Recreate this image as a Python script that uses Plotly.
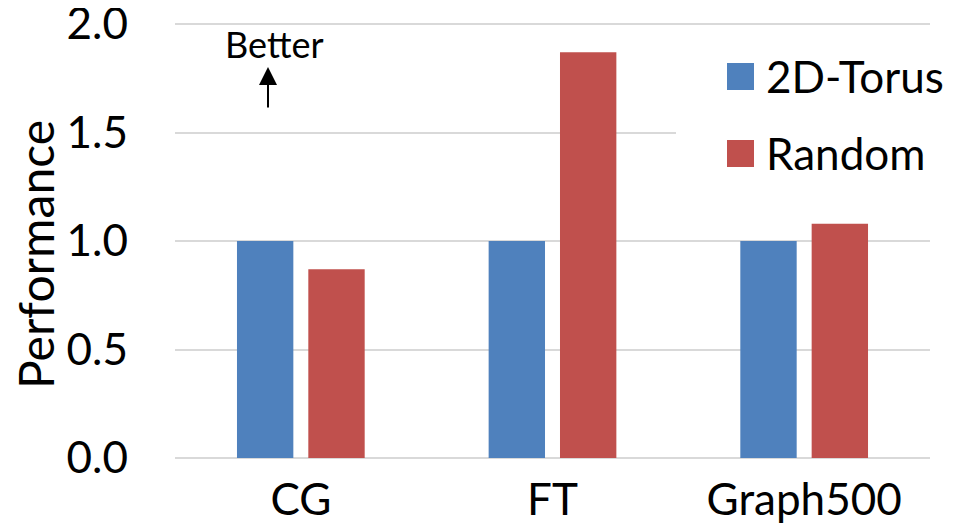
import plotly.graph_objects as go

categories = ["CG", "FT", "Graph500"]
series_names = ["2D-Torus", "Random"]
torus_values = [1.0, 1.0, 1.0]
random_values = [0.87, 1.87, 1.08]
y_ticks = [0.0, 0.5, 1.0, 1.5, 2.0]
y_tick_labels = ["0.0", "0.5", "1.0", "1.5", "2.0"]
colors = ["#4F81BD", "#C0504D"]

FONT = "Lato"
OFF = 8  # page body margin
W, H = 951, 519
L, R, T, B = 167, 29, 12, 69
pw, ph = W - L - R, H - T - B
YMAX = ph / 217.0  # 217 px per unit, 2.0 sits a few px below the top edge

def px(x):
    return (x - OFF - L) / pw

def py(y):
    return (H - B - (y - OFF)) / ph

fig = go.Figure()
for name, vals, col in zip(series_names, [torus_values, random_values], colors):
    fig.add_trace(go.Bar(x=categories, y=vals, name=name, marker_color=col,
                         marker_line_width=0, showlegend=False))

fig.update_layout(
    width=W, height=H,
    margin=dict(l=L, r=R, t=T, b=B, autoexpand=False),
    paper_bgcolor="white", plot_bgcolor="white",
    barmode="group", bargap=0.433, bargroupgap=0.21,
    font=dict(family=FONT, color="black", size=44),
)
fig.update_xaxes(showgrid=False, showline=False, ticks="", zeroline=False,
                 automargin=False, ticklabeloverflow="allow",
                 tickfont=dict(size=44, family=FONT), ticklabelstandoff=12)
fig.update_yaxes(range=[0, YMAX], tickvals=y_ticks, ticktext=y_tick_labels,
                 automargin=False, ticklabeloverflow="allow",
                 showgrid=True, gridcolor="#D9D9D9", gridwidth=1.5,
                 zeroline=True, zerolinecolor="#D9D9D9", zerolinewidth=1.5,
                 showline=False, ticks="", tickfont=dict(size=44, family=FONT),
                 ticklabelstandoff=46)

shapes = []
annotations = []
# white panel behind legend
shapes.append(dict(type="rect", xref="paper", yref="paper",
                   x0=px(676), x1=1.05, y0=py(200), y1=py(40),
                   fillcolor="white", line_width=0, layer="above"))
legend_rows = [(63, 90, 76), (140, 167, 153)]
for (y0, y1, yc), name, col in zip(legend_rows, series_names, colors):
    shapes.append(dict(type="rect", xref="paper", yref="paper",
                       x0=px(727), x1=px(754), y0=py(y1), y1=py(y0),
                       fillcolor=col, line_width=0, layer="above"))
    annotations.append(dict(xref="paper", yref="paper", x=px(764), y=py(yc),
                            text=name, showarrow=False, xanchor="left",
                            yanchor="middle", font=dict(size=44, family=FONT)))

annotations.append(dict(xref="paper", yref="paper", x=px(35), y=py(255),
                        text="Performance", textangle=-90, showarrow=False,
                        xanchor="center", yanchor="middle",
                        font=dict(size=48, family=FONT)))
annotations.append(dict(xref="paper", yref="paper", x=px(274), y=py(44),
                        text="Better", showarrow=False, xanchor="center",
                        yanchor="middle", font=dict(size=36, family=FONT)))
annotations.append(dict(xref="paper", yref="paper", x=px(268), y=py(67),
                        text="", showarrow=True, ax=0, ay=42,
                        arrowhead=2, arrowsize=1.8, arrowwidth=2,
                        arrowcolor="black", font=dict(size=1)))

fig.update_layout(shapes=shapes, annotations=annotations)
fig.write_html("out.html")
